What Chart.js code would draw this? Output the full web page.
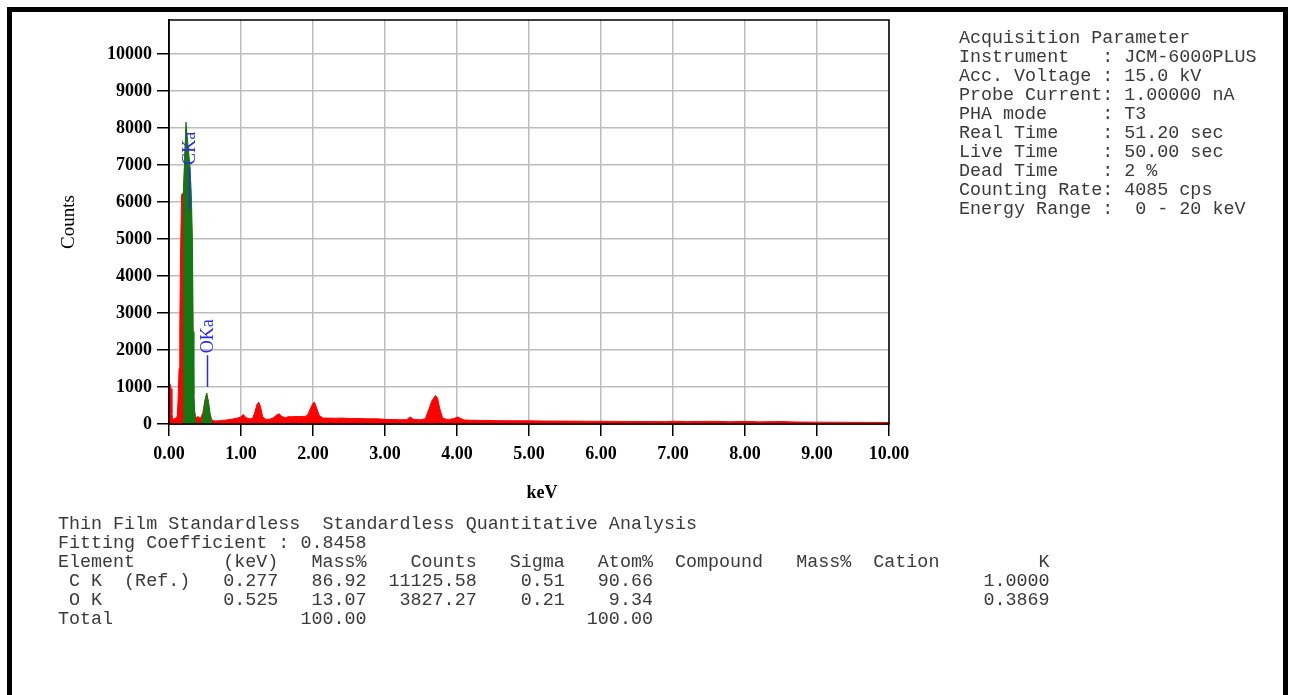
<!DOCTYPE html>
<html>
<head>
<meta charset="utf-8">
<title>EDS spectrum</title>
<script src="https://cdn.jsdelivr.net/npm/chart.js@4/dist/chart.umd.min.js"></script>
<style>
  html, body { margin: 0; padding: 0; background: #fff; }
  body { width: 1289px; height: 695px; position: relative; overflow: hidden; }
  #frame { position: absolute; left: 7px; top: 7px; width: 1271px; height: 720px;
           border: 5px solid #000; border-bottom: none; }
  #spectrum { position: absolute; left: 0; top: 0; }
  pre.report { position: absolute; margin: 0; font-family: "Liberation Mono", monospace;
               font-size: 18.38px; line-height: 19px; color: #3a3a3a; white-space: pre; }
  #acq { left: 959px; top: 29px; }
  #quant { left: 58px; top: 516px; line-height: 18.9px; }
</style>
</head>
<body>
<div id="frame"></div>
<canvas id="spectrum" width="1289" height="695"></canvas>
<pre class="report" id="acq">Acquisition Parameter
Instrument   : JCM-6000PLUS
Acc. Voltage : 15.0 kV
Probe Current: 1.00000 nA
PHA mode     : T3
Real Time    : 51.20 sec
Live Time    : 50.00 sec
Dead Time    : 2 %
Counting Rate: 4085 cps
Energy Range :  0 - 20 keV</pre>
<pre class="report" id="quant">Thin Film Standardless  Standardless Quantitative Analysis
Fitting Coefficient : 0.8458
Element        (keV)   Mass%    Counts   Sigma   Atom%  Compound   Mass%  Cation         K
 C K  (Ref.)   0.277   86.92  11125.58    0.51   90.66                              1.0000
 O K           0.525   13.07   3827.27    0.21    9.34                              0.3869
Total                 100.00                    100.00</pre>
<script>
// Measured spectrum (total counts per energy)
const spectrumKeV = [
  0.00, 0.01, 0.02, 0.03, 0.04, 0.05, 0.06, 0.08, 0.10, 0.115, 0.125, 0.14, 0.15, 0.16, 0.175,
  0.20, 0.236, 0.28, 0.31, 0.325, 0.335, 0.35, 0.36, 0.38, 0.40, 0.42, 0.44, 0.47, 0.50,
  0.52, 0.545, 0.57, 0.60, 0.64, 0.68, 0.72, 0.76, 0.80, 0.85, 0.90, 0.95, 0.99, 1.03,
  1.07, 1.12, 1.16, 1.19, 1.22, 1.245, 1.27, 1.30, 1.34, 1.40, 1.45, 1.50, 1.53, 1.57,
  1.62, 1.66, 1.70, 1.75, 1.80, 1.85, 1.90, 1.93, 1.96, 2.00, 2.02, 2.05, 2.09, 2.14,
  2.20, 2.30, 2.40, 2.50, 2.60, 2.70, 2.80, 2.90, 3.00, 3.10, 3.20, 3.30, 3.35, 3.40,
  3.50, 3.56, 3.60, 3.65, 3.70, 3.73, 3.76, 3.80, 3.85, 3.90, 3.96, 4.01, 4.05, 4.10,
  4.20, 4.40, 4.60, 4.80, 5.00, 5.20, 5.50, 5.80, 6.00, 6.30, 6.60, 6.90, 7.00, 7.20,
  7.50, 7.80, 8.00, 8.20, 8.50, 8.70, 9.00, 9.30, 9.60, 10.00
];
const spectrumCounts = [
  1100, 1090, 1050, 950, 300, 150, 120, 160, 150, 220, 600, 1500, 2600, 4600, 6200,
  6250, 8000, 6800, 5800, 4000, 1500, 300, 200, 180, 200, 170, 160, 300, 650,
  800, 620, 250, 100, 80, 85, 90, 100, 110, 125, 140, 160, 180, 260,
  170, 140, 150, 300, 520, 590, 480, 200, 130, 130, 170, 250, 275, 200,
  170, 200, 195, 205, 200, 205, 210, 260, 400, 560, 590, 430, 220, 160,
  160, 155, 160, 150, 150, 145, 140, 140, 125, 120, 115, 118, 190, 120,
  115, 140, 350, 620, 770, 700, 420, 160, 130, 125, 150, 190, 150, 110,
  100, 95, 90, 88, 85, 80, 78, 75, 72, 70, 66, 64, 75, 64,
  72, 62, 70, 58, 66, 55, 50, 48, 44, 40
];

// Fitted peak profiles
const cKaKeV = [0.195, 0.200, 0.206, 0.236, 0.26, 0.29, 0.31, 0.325, 0.335, 0.345, 0.36, 0.375];
const cKaCounts = [0, 5000, 6300, 8160, 7600, 7000, 6200, 5000, 2500, 800, 250, 0];
const oKaKeV = [0.44, 0.47, 0.50, 0.525, 0.55, 0.58, 0.61];
const oKaCounts = [0, 150, 620, 840, 560, 150, 0];

// Peak markers
const peakLabels = ['CKa', 'OKa'];
const peakKeV = [0.277, 0.525];
const peakMarkerBottom = [5790, 1000];
const peakMarkerTop = [6950, 1860];

// Axis ticks
const xTickValues = [0, 1, 2, 3, 4, 5, 6, 7, 8, 9, 10];
const yTickValues = [0, 1000, 2000, 3000, 4000, 5000, 6000, 7000, 8000, 9000, 10000];

const toPoints = (xs, ys) => xs.map((x, i) => ({ x: x, y: ys[i] }));

const plotFrame = {
  id: 'plotFrame',
  afterDatasetsDraw(chart) {
    const { ctx, chartArea: a } = chart;
    ctx.save();
    ctx.strokeStyle = '#000';
    ctx.lineWidth = 1.5;
    ctx.strokeRect(a.left, a.top, a.right - a.left, a.bottom - a.top);
    ctx.restore();
  }
};

const peakMarkers = {
  id: 'peakMarkers',
  afterDatasetsDraw(chart) {
    const { ctx } = chart;
    const xs = chart.scales.x, ys = chart.scales.y;
    ctx.save();
    ctx.strokeStyle = '#2a2aee';
    ctx.fillStyle = '#2a2aee';
    ctx.lineWidth = 1.5;
    ctx.font = '18px "Liberation Serif"';
    peakLabels.forEach((label, i) => {
      const px = Math.round(xs.getPixelForValue(peakKeV[i])) + 0.5;
      const yb = ys.getPixelForValue(peakMarkerBottom[i]);
      const yt = ys.getPixelForValue(peakMarkerTop[i]);
      ctx.beginPath();
      ctx.moveTo(px, yb);
      ctx.lineTo(px, yt);
      ctx.stroke();
      ctx.save();
      ctx.translate(px + 1, yt - 2);
      ctx.rotate(-Math.PI / 2);
      ctx.textAlign = 'left';
      ctx.textBaseline = 'middle';
      ctx.fillText(label, 0, 0);
      ctx.restore();
    });
    ctx.restore();
  }
};

const xAxisTitle = {
  id: 'xAxisTitle',
  afterDraw(chart) {
    const { ctx } = chart;
    ctx.save();
    ctx.fillStyle = '#000';
    ctx.font = 'bold 18px "Liberation Serif"';
    ctx.textAlign = 'center';
    ctx.textBaseline = 'middle';
    ctx.fillText('keV', 542, 493);
    ctx.restore();
  }
};

new Chart(document.getElementById('spectrum'), {
  type: 'line',
  data: {
    datasets: [
      {
        label: 'C Kα',
        data: toPoints(cKaKeV, cKaCounts),
        order: 0,
        borderColor: '#127812',
        backgroundColor: '#127812',
        borderWidth: 1,
        fill: 'origin',
        pointRadius: 0,
        tension: 0
      },
      {
        label: 'O Kα',
        data: toPoints(oKaKeV, oKaCounts),
        order: 0,
        borderColor: '#127812',
        backgroundColor: '#127812',
        borderWidth: 1,
        fill: 'origin',
        pointRadius: 0,
        tension: 0
      },
      {
        label: 'Counts',
        data: toPoints(spectrumKeV, spectrumCounts),
        order: 1,
        borderColor: '#ff0000',
        backgroundColor: '#ff0000',
        borderWidth: 1,
        fill: 'origin',
        pointRadius: 0,
        tension: 0
      }
    ]
  },
  options: {
    responsive: false,
    animation: false,
    devicePixelRatio: 1,
    layout: { padding: { left: 0, top: 20, right: 400, bottom: 0 } },
    plugins: { legend: { display: false }, tooltip: { enabled: false } },
    scales: {
      x: {
        type: 'linear',
        min: 0,
        max: 10,
        afterBuildTicks: (s) => { s.ticks = xTickValues.map(v => ({ value: v })); },
        afterFit: (s) => { s.height = 271; },
        grid: { color: '#bdbdbd', lineWidth: 1.5, tickColor: '#000', tickLength: 12, tickWidth: 1.5 },
        border: { color: '#000', width: 1.5 },
        ticks: {
          autoSkip: false, maxRotation: 0, padding: 8, color: '#000',
          font: { family: 'Liberation Serif', size: 18, weight: 'bold' },
          callback: (v) => Number(v).toFixed(2)
        }
      },
      y: {
        min: 0,
        max: 10920,
        afterBuildTicks: (s) => { s.ticks = yTickValues.map(v => ({ value: v })); },
        afterFit: (s) => { s.width = 169; },
        grid: { color: '#bdbdbd', lineWidth: 1.5, tickColor: '#000', tickLength: 12, tickWidth: 1.5 },
        border: { color: '#000', width: 1.5 },
        ticks: {
          padding: 5, color: '#000',
          font: { family: 'Liberation Serif', size: 18, weight: 'bold' },
          callback: (v) => String(v)
        },
        title: {
          display: true, text: 'Counts', color: '#000',
          font: { family: 'Liberation Serif', size: 19 },
          padding: { top: 58, bottom: 0 }
        }
      }
    }
  },
  plugins: [plotFrame, peakMarkers, xAxisTitle]
});
</script>
</body>
</html>
